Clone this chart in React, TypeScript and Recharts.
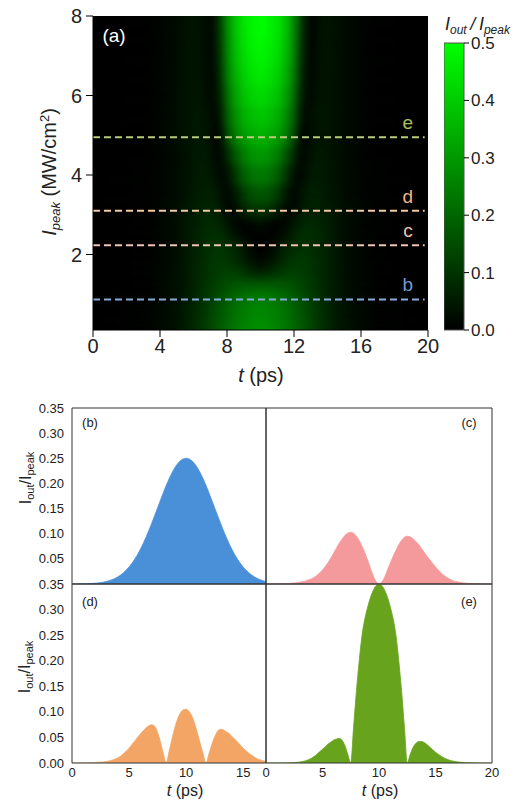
import React from 'react';
import {
  ComposedChart, AreaChart, Area, BarChart, Bar, Scatter, XAxis, YAxis,
  ReferenceArea, ReferenceLine, ReferenceDot,
} from 'recharts';

const FONT = '"Liberation Sans", Arial, sans-serif';

// time grid shared by the profile panels (ps)
const tGrid = [0, 0.25, 0.5, 0.75, 1, 1.25, 1.5, 1.75, 2, 2.25, 2.5, 2.75, 3, 3.25, 3.5, 3.75, 4, 4.25, 4.5, 4.75,
  5, 5.25, 5.5, 5.75, 6, 6.25, 6.5, 6.75, 7, 7.25, 7.5, 7.75, 8, 8.25, 8.5, 8.75, 9, 9.25, 9.5, 9.75,
  10, 10.25, 10.5, 10.75, 11, 11.25, 11.5, 11.75, 12, 12.25, 12.5, 12.75, 13, 13.25, 13.5, 13.75, 14, 14.25, 14.5, 14.75,
  15, 15.25, 15.5, 15.75, 16, 16.25, 16.5, 16.75, 17, 17.25, 17.5, 17.75, 18, 18.25, 18.5, 18.75, 19, 19.25, 19.5, 19.75, 20];

// I_out / I_peak profiles (b)-(e)
const profileB = [0.0001, 0.0001, 0.0002, 0.0003, 0.0004, 0.0005, 0.0008, 0.0011, 0.0015, 0.002, 0.0028, 0.0037, 0.005, 0.0065,
  0.0085, 0.011, 0.014, 0.0177, 0.0222, 0.0276, 0.0338, 0.0411, 0.0495, 0.0589, 0.0695, 0.0812, 0.0938, 0.1074, 0.1217, 0.1365,
  0.1516, 0.1667, 0.1815, 0.1957, 0.2088, 0.2206, 0.2308, 0.239, 0.245, 0.2488, 0.25,
  0.2488, 0.245, 0.239, 0.2308, 0.2206, 0.2088, 0.1957, 0.1815, 0.1667, 0.1516, 0.1365, 0.1217, 0.1074, 0.0938, 0.0812, 0.0695,
  0.0589, 0.0495, 0.0411, 0.0338, 0.0276, 0.0222, 0.0177, 0.014, 0.011, 0.0085, 0.0065, 0.005, 0.0037, 0.0028, 0.002, 0.0015,
  0.0011, 0.0008, 0.0005, 0.0004, 0.0003, 0.0002, 0.0001, 0.0001];

const profileC = [0, 0, 0.0001, 0.0001, 0.0002, 0.0003, 0.0005, 0.0007, 0.001, 0.0015, 0.002, 0.0027, 0.0035, 0.0045, 0.006,
  0.008, 0.01, 0.013, 0.017, 0.022, 0.028, 0.035, 0.043, 0.052, 0.062, 0.072, 0.082, 0.09, 0.097, 0.1015, 0.103, 0.101, 0.095,
  0.086, 0.075, 0.062, 0.047, 0.031, 0.016, 0.005, 0,
  0.004, 0.014, 0.028, 0.042, 0.055, 0.067, 0.078, 0.087, 0.093, 0.095, 0.094, 0.09, 0.085, 0.079, 0.071, 0.063, 0.055, 0.048,
  0.041, 0.034, 0.028, 0.022, 0.017, 0.013, 0.01, 0.007, 0.005, 0.004, 0.003, 0.002, 0.0015, 0.001, 0.0007, 0.0005, 0.0003,
  0.0002, 0.0001, 0.0001, 0, 0];

const profileD = [0, 0, 0, 0.0001, 0.0001, 0.0002, 0.0003,
  0.0005, 0.0007, 0.001, 0.0015, 0.002, 0.003, 0.004, 0.0055, 0.0075, 0.01, 0.013, 0.018, 0.023, 0.029, 0.036, 0.043, 0.05,
  0.057, 0.063, 0.069, 0.073, 0.075, 0.072, 0.06, 0.041, 0.019, 0,
  0.022, 0.046, 0.068, 0.086, 0.098, 0.104, 0.105, 0.101, 0.092, 0.077, 0.058, 0.037, 0.017, 0,
  0.018, 0.036, 0.051, 0.062, 0.066, 0.065, 0.061, 0.058, 0.052, 0.047, 0.041, 0.035, 0.029, 0.024, 0.019, 0.015, 0.011,
  0.008, 0.006, 0.0045, 0.003, 0.0022, 0.0015, 0.001, 0.0007, 0.0005, 0.0003, 0.0002, 0.0001, 0, 0, 0, 0];

const profileE = [0, 0, 0, 0, 0.0001, 0.0001, 0.0002, 0.0002,
  0.0003, 0.0005, 0.0008, 0.0013, 0.002, 0.003, 0.0045, 0.0065, 0.009, 0.0125, 0.017, 0.022, 0.027, 0.032, 0.037, 0.041,
  0.045, 0.047, 0.048, 0.044, 0.033, 0.016, 0,
  0.07, 0.14, 0.2, 0.25, 0.282, 0.305, 0.324, 0.338, 0.347, 0.35, 0.347, 0.338, 0.324, 0.305, 0.282, 0.25, 0.2, 0.14, 0.07,
  0, 0.016, 0.03, 0.038, 0.042, 0.042, 0.04, 0.036, 0.031, 0.026, 0.021, 0.017, 0.013, 0.01, 0.0075, 0.0055, 0.004, 0.0028,
  0.002, 0.0014, 0.001, 0.0007, 0.0005, 0.0003, 0.0002, 0.0001, 0.0001, 0, 0, 0, 0];

// heat map (a): columns in t (ps), rows in I_peak (MW/cm^2)
const heatT = [0, 3, 4, 5, 5.5, 6, 6.5, 7, 7.5, 8, 8.5, 9, 9.5, 10, 10.5, 11, 11.5, 12, 12.5, 13, 13.5, 14, 14.5, 15, 16, 17, 20];
const heatI = [0.1, 0.5, 0.87, 1.2, 1.5, 1.75, 2.0, 2.23, 2.5, 2.75, 3.1, 3.5, 4.0, 4.5, 4.95, 5.5, 6.0, 6.5, 7.0, 7.5, 8.0];
const heatRows = [
  [0, 0.005, 0.016, 0.038, 0.055, 0.078, 0.105, 0.136, 0.17, 0.204, 0.234, 0.259, 0.274, 0.28, 0.274, 0.259, 0.234, 0.204, 0.17, 0.136, 0.105, 0.078, 0.055, 0.038, 0.016, 0.005, 0],
  [0, 0.005, 0.015, 0.036, 0.053, 0.075, 0.101, 0.131, 0.164, 0.196, 0.225, 0.249, 0.264, 0.27, 0.264, 0.249, 0.225, 0.196, 0.164, 0.131, 0.101, 0.075, 0.053, 0.036, 0.015, 0.005, 0],
  [0, 0.005, 0.014, 0.034, 0.049, 0.07, 0.094, 0.122, 0.152, 0.182, 0.209, 0.231, 0.245, 0.25, 0.245, 0.231, 0.209, 0.182, 0.152, 0.122, 0.094, 0.07, 0.049, 0.034, 0.014, 0.005, 0],
  [0, 0.004, 0.014, 0.033, 0.048, 0.067, 0.089, 0.112, 0.136, 0.157, 0.173, 0.184, 0.189, 0.19, 0.189, 0.184, 0.173, 0.157, 0.136, 0.112, 0.089, 0.067, 0.048, 0.033, 0.014, 0.004, 0],
  [0, 0.004, 0.013, 0.032, 0.047, 0.066, 0.087, 0.106, 0.122, 0.13, 0.125, 0.112, 0.094, 0.082, 0.094, 0.112, 0.125, 0.13, 0.122, 0.106, 0.087, 0.066, 0.047, 0.032, 0.013, 0.004, 0],
  [0, 0.004, 0.012, 0.031, 0.046, 0.064, 0.084, 0.101, 0.113, 0.112, 0.097, 0.07, 0.043, 0.028, 0.043, 0.07, 0.097, 0.112, 0.113, 0.101, 0.084, 0.064, 0.046, 0.031, 0.012, 0.004, 0],
  [0, 0.004, 0.012, 0.03, 0.045, 0.063, 0.082, 0.098, 0.107, 0.1, 0.078, 0.046, 0.018, 0.006, 0.018, 0.046, 0.078, 0.1, 0.107, 0.098, 0.082, 0.063, 0.045, 0.03, 0.012, 0.004, 0],
  [0, 0.0035, 0.01, 0.028, 0.043, 0.062, 0.082, 0.097, 0.103, 0.095, 0.075, 0.047, 0.016, 0, 0.014, 0.042, 0.067, 0.087, 0.095, 0.09, 0.079, 0.063, 0.048, 0.034, 0.013, 0.004, 0],
  [0, 0.0035, 0.01, 0.027, 0.042, 0.06, 0.079, 0.093, 0.094, 0.07, 0.035, 0.01, 0.003, 0.008, 0.003, 0.01, 0.035, 0.07, 0.094, 0.093, 0.079, 0.06, 0.042, 0.027, 0.01, 0.0035, 0],
  [0, 0.0035, 0.01, 0.027, 0.041, 0.058, 0.075, 0.084, 0.074, 0.045, 0.015, 0.004, 0.012, 0.03, 0.012, 0.004, 0.015, 0.045, 0.074, 0.084, 0.075, 0.058, 0.041, 0.027, 0.01, 0.0035, 0],
  [0, 0.003, 0.01, 0.029, 0.043, 0.057, 0.069, 0.075, 0.06, 0.019, 0.022, 0.068, 0.098, 0.105, 0.092, 0.058, 0.017, 0.018, 0.051, 0.066, 0.061, 0.052, 0.041, 0.029, 0.011, 0.003, 0],
  [0, 0.003, 0.009, 0.024, 0.036, 0.049, 0.061, 0.065, 0.045, 0.005, 0.05, 0.115, 0.158, 0.17, 0.158, 0.115, 0.05, 0.005, 0.045, 0.063, 0.059, 0.048, 0.036, 0.024, 0.009, 0.003, 0],
  [0, 0.003, 0.009, 0.023, 0.034, 0.047, 0.056, 0.05, 0.02, 0.025, 0.11, 0.185, 0.228, 0.24, 0.228, 0.185, 0.11, 0.025, 0.02, 0.05, 0.054, 0.046, 0.034, 0.023, 0.009, 0.003, 0],
  [0, 0.002, 0.008, 0.022, 0.032, 0.045, 0.052, 0.04, 0.006, 0.075, 0.17, 0.245, 0.288, 0.3, 0.288, 0.245, 0.17, 0.075, 0.006, 0.04, 0.05, 0.044, 0.032, 0.022, 0.008, 0.002, 0],
  [0, 0.002, 0.009, 0.027, 0.037, 0.045, 0.048, 0.033, 0, 0.14, 0.25, 0.305, 0.338, 0.35, 0.338, 0.305, 0.25, 0.14, 0, 0.03, 0.042, 0.04, 0.031, 0.021, 0.0075, 0.002, 0],
  [0, 0.002, 0.008, 0.026, 0.036, 0.044, 0.047, 0.028, 0.02, 0.18, 0.285, 0.345, 0.377, 0.39, 0.377, 0.345, 0.285, 0.18, 0.02, 0.028, 0.043, 0.041, 0.032, 0.021, 0.007, 0.002, 0],
  [0, 0.002, 0.008, 0.025, 0.035, 0.043, 0.042, 0.015, 0.045, 0.21, 0.32, 0.382, 0.416, 0.43, 0.416, 0.382, 0.32, 0.21, 0.045, 0.015, 0.04, 0.04, 0.032, 0.021, 0.007, 0.002, 0],
  [0, 0.002, 0.008, 0.025, 0.034, 0.042, 0.038, 0.01, 0.06, 0.24, 0.348, 0.41, 0.445, 0.46, 0.445, 0.41, 0.348, 0.24, 0.06, 0.01, 0.037, 0.04, 0.031, 0.021, 0.007, 0.002, 0],
  [0, 0.002, 0.008, 0.024, 0.033, 0.041, 0.036, 0.006, 0.075, 0.255, 0.37, 0.432, 0.466, 0.48, 0.466, 0.432, 0.37, 0.255, 0.075, 0.006, 0.035, 0.04, 0.031, 0.021, 0.007, 0.002, 0],
  [0, 0.002, 0.008, 0.024, 0.033, 0.04, 0.035, 0.005, 0.085, 0.265, 0.382, 0.445, 0.48, 0.495, 0.48, 0.445, 0.382, 0.265, 0.085, 0.005, 0.034, 0.04, 0.031, 0.021, 0.007, 0.002, 0],
  [0, 0.002, 0.008, 0.024, 0.032, 0.04, 0.034, 0.004, 0.092, 0.272, 0.388, 0.452, 0.487, 0.5, 0.487, 0.452, 0.388, 0.272, 0.092, 0.004, 0.034, 0.04, 0.031, 0.021, 0.007, 0.002, 0],
];

// horizontal cuts shown in (a)
const cutLevels = [4.95, 3.1, 2.23, 0.87];
const cutNames = ['e', 'd', 'c', 'b'];
const cutLineColors = ['#b9cc7c', '#f1caa2', '#f0c4b4', '#86abd9'];
const cutTextColors = ['#a8c25e', '#f4b680', '#f1c3b0', '#6f9bd7'];

const heatXTicks = [0, 4, 8, 12, 16, 20];
const heatXMinor = [2, 6, 10, 14, 18];
const heatYTicks = [2, 4, 6, 8];
const heatYMinor = [1, 3, 5, 7];
const barTicks = [0, 0.1, 0.2, 0.3, 0.4, 0.5];

const leftXTicks = [0, 5, 10, 15];
const rightXTicks = [0, 5, 10, 15, 20];
const leftXMinor = [2.5, 5, 7.5, 10, 12.5, 15];
const rightXMinor = [2.5, 5, 7.5, 10, 12.5, 15, 17.5];
const upperYTicks = [0.05, 0.1, 0.15, 0.2, 0.25, 0.3, 0.35];
const lowerYTicks = [0, 0.05, 0.1, 0.15, 0.2, 0.25, 0.3, 0.35];
const innerYTicks = [0.05, 0.1, 0.15, 0.2, 0.25, 0.3];

const MAXV = 0.5;
const green = (v: number) => `rgb(0,${Math.round(255 * Math.min(1, Math.max(0, v / MAXV)))},0)`;

const HX0 = 0, HX1 = 20, HY0 = 0.1, HY1 = 8;
const OV = 0.3;

function Defs() {
  return (
    <svg width={0} height={0} style={{ position: 'absolute' }}>
      <defs>
        <filter id="vblur" filterUnits="userSpaceOnUse" x={-50} y={-100} width={700} height={700}
          colorInterpolationFilters="sRGB">
          <feGaussianBlur stdDeviation="3 5" />
        </filter>
        {heatRows.map((row, i) => (
          <linearGradient id={`hrow${i}`} key={i} x1="0" y1="0" x2="1" y2="0">
            {row.map((v, j) => (
              <stop key={j} offset={(heatT[j] - HX0) / (HX1 - HX0)} stopColor={green(v)} />
            ))}
          </linearGradient>
        ))}
        <linearGradient id="cbar" x1="0" y1="1" x2="0" y2="0">
          {barTicks.map((v) => (
            <stop key={v} offset={v / MAXV} stopColor={green(v)} />
          ))}
        </linearGradient>
      </defs>
    </svg>
  );
}

function HeatMap() {
  const bands = heatI.map((I, i) => ({
    i,
    y1: i === 0 ? HY0 - 0.6 : (heatI[i - 1] + I) / 2,
    y2: i === heatI.length - 1 ? HY1 + 0.6 : (I + heatI[i + 1]) / 2 + OV,
  }));
  const corners = [{ t: HX0, I: HY0 }, { t: HX1, I: HY1 }];
  const tickStyle = { fill: '#222', fontSize: 20, fontFamily: FONT };
  return (
    <div style={{ position: 'absolute', left: 0, top: 0 }}>
      <ComposedChart width={440} height={400} margin={{ top: 16, right: 12, bottom: 68, left: 91 }}>
        <XAxis xAxisId="m" type="number" dataKey="t" domain={[HX0, HX1]} ticks={heatXTicks} allowDataOverflow height={1}
          tickSize={7} tickMargin={2} stroke="#000" tick={tickStyle} />
        <XAxis xAxisId="n" type="number" dataKey="t" domain={[HX0, HX1]} ticks={heatXMinor} allowDataOverflow height={1}
          tickSize={4} tick={false} axisLine={false} stroke="#000" />
        <YAxis yAxisId="m" type="number" dataKey="I" domain={[HY0, HY1]} ticks={heatYTicks} allowDataOverflow width={1}
          tickSize={7} tickMargin={4} stroke="#000" tick={tickStyle} />
        <YAxis yAxisId="n" type="number" dataKey="I" domain={[HY0, HY1]} ticks={heatYMinor} allowDataOverflow width={1}
          tickSize={4} tick={false} axisLine={false} stroke="#000" />
        <Scatter xAxisId="m" yAxisId="m" data={corners} dataKey="I" shape={() => <g />} isAnimationActive={false} />
        <Scatter xAxisId="n" yAxisId="n" data={corners} dataKey="I" shape={() => <g />} isAnimationActive={false} />
        <ReferenceArea xAxisId="m" yAxisId="m" x1={HX0} x2={HX1} y1={HY0} y2={HY1} fill="#000" fillOpacity={1}
          stroke="none" ifOverflow="hidden" />
        {bands.map((b) => (
          <ReferenceArea key={b.i} xAxisId="m" yAxisId="m" x1={HX0} x2={HX1} y1={b.y1} y2={b.y2}
            ifOverflow="hidden"
            shape={(p: any) => (
              <rect x={p.x} y={p.y} width={p.width} height={p.height} fill={`url(#hrow${b.i})`}
                filter="url(#vblur)" clipPath={p.clipPath} />
            )} />
        ))}
        {cutLevels.map((L, i) => (
          <ReferenceLine key={'l' + i} xAxisId="m" yAxisId="m" segment={[{ x: 0, y: L }, { x: 19.8, y: L }]}
            stroke={cutLineColors[i]} strokeWidth={2} strokeDasharray="7 4" />
        ))}
        {cutLevels.map((L, i) => (
          <ReferenceDot key={'d' + i} xAxisId="m" yAxisId="m" x={18.8} y={L} r={0} fill="none" stroke="none"
            label={{ value: cutNames[i], position: 'top', offset: 8, fill: cutTextColors[i], fontSize: 19, fontFamily: FONT }} />
        ))}
      </ComposedChart>
    </div>
  );
}

function ColorBar() {
  return (
    <div style={{ position: 'absolute', left: 444, top: 33 }}>
      <BarChart width={70} height={307} margin={{ top: 10, bottom: 10, left: 0, right: 49 }}
        data={[{ name: 'bar', v: MAXV }]} barCategoryGap={0}>
        <XAxis dataKey="name" hide />
        <YAxis orientation="right" type="number" domain={[0, MAXV]} ticks={barTicks} width={1}
          tickSize={5} tickMargin={2} axisLine={false} stroke="#000"
          tickFormatter={(v: number) => v.toFixed(1)}
          tick={{ fill: '#222', fontSize: 17, fontFamily: FONT }} />
        <Bar dataKey="v" fill="url(#cbar)" stroke="#555" strokeWidth={1} isAnimationActive={false} />
      </BarChart>
    </div>
  );
}

type PanelProps = {
  values: number[]; color: string; xMax: number; xTicks: number[]; xMinor: number[];
  yTicks: number[]; showY: boolean; showX: boolean; px: number; py: number; pw: number; ph: number;
};

function Panel({ values, color, xMax, xTicks, xMinor, yTicks, showY, showX, px, py, pw, ph }: PanelProps) {
  const data = tGrid.map((t, i) => ({ t, v: values[i] ?? 0 }));
  const M = { left: 49, right: 10, top: 10, bottom: 29 };
  const tickStyle = { fill: '#222', fontSize: 13, fontFamily: FONT };
  const ax = { stroke: '#333', strokeWidth: 1 };
  return (
    <div style={{ position: 'absolute', left: px - M.left - 1, top: py - M.top }}>
      <AreaChart width={pw + M.left + 1 + M.right} height={ph + M.top + M.bottom + 1} data={data} margin={M}>
        <XAxis xAxisId="b" type="number" dataKey="t" domain={[0, xMax]} allowDataOverflow ticks={xTicks} height={1}
          tickSize={0} tickMargin={5} tickLine={false} axisLine={ax} tick={showX ? tickStyle : false} />
        <XAxis xAxisId="bm" type="number" dataKey="t" domain={[0, xMax]} allowDataOverflow ticks={xMinor} height={1}
          mirror tickSize={4} tick={false} axisLine={false} stroke="#333" />
        <XAxis xAxisId="tm" orientation="top" type="number" dataKey="t" domain={[0, xMax]} allowDataOverflow
          ticks={xMinor} height={1} mirror tickSize={4} tick={false} axisLine={ax} stroke="#333" />
        <YAxis yAxisId="l" type="number" domain={[0, 0.35]} allowDataOverflow ticks={yTicks} width={1}
          tickSize={0} tickMargin={8} tickLine={false} axisLine={ax}
          tickFormatter={(v: number) => v.toFixed(2)} tick={showY ? tickStyle : false} />
        <YAxis yAxisId="lm" type="number" domain={[0, 0.35]} allowDataOverflow ticks={innerYTicks} width={1}
          mirror tickSize={4} tick={false} axisLine={false} stroke="#333" />
        <YAxis yAxisId="rm" orientation="right" type="number" domain={[0, 0.35]} allowDataOverflow ticks={innerYTicks}
          width={1} mirror tickSize={4} tick={false} axisLine={ax} stroke="#333" />
        <Area xAxisId="b" yAxisId="l" type="monotone" dataKey="v" stroke={color} strokeWidth={0.8} fill={color}
          fillOpacity={1} baseValue={0} dot={false} activeDot={false} isAnimationActive={false} />
      </AreaChart>
    </div>
  );
}

function Txt({ cx, cy, size, rotate, color = '#222', italic, children }: any) {
  return (
    <div style={{
      position: 'absolute', left: cx, top: cy, whiteSpace: 'nowrap', lineHeight: 1,
      transform: `translate(-50%,-50%)${rotate ? ' rotate(-90deg)' : ''}`,
      fontSize: size, fontFamily: FONT, color, fontStyle: italic ? 'italic' : 'normal',
    }}>{children}</div>
  );
}

const sub = (s: string, size: number, italic = false) => (
  <sub style={{ fontSize: size, fontStyle: italic ? 'italic' : 'normal', verticalAlign: '-0.3em' }}>{s}</sub>
);

export default function App() {
  return (
    <div style={{ position: 'absolute', left: 0, top: 0, width: 515, height: 802, overflow: 'hidden', background: '#fff' }}>
      <Defs />
      <HeatMap />
      <ColorBar />
      <Panel values={profileB} color="#4a90d9" xMax={17} xTicks={leftXTicks} xMinor={leftXMinor} yTicks={upperYTicks}
        showY showX={false} px={72} py={408} pw={194} ph={176} />
      <Panel values={profileC} color="#f59a9c" xMax={20} xTicks={rightXTicks} xMinor={rightXMinor} yTicks={upperYTicks}
        showY={false} showX={false} px={266} py={408} pw={226} ph={176} />
      <Panel values={profileD} color="#f3a565" xMax={17} xTicks={leftXTicks} xMinor={leftXMinor} yTicks={lowerYTicks}
        showY showX px={72} py={584} pw={194} ph={179} />
      <Panel values={profileE} color="#68a31e" xMax={20} xTicks={rightXTicks} xMinor={rightXMinor} yTicks={lowerYTicks}
        showY={false} showX px={266} py={584} pw={226} ph={179} />

      <Txt cx={114} cy={35} size={19} color="#fff">(a)</Txt>
      <Txt cx={90} cy={422} size={13}>(b)</Txt>
      <Txt cx={469} cy={422} size={13}>(c)</Txt>
      <Txt cx={90} cy={601} size={13}>(d)</Txt>
      <Txt cx={469} cy={601} size={13}>(e)</Txt>

      <Txt cx={261} cy={375} size={20}><i>t</i> (ps)</Txt>
      <Txt cx={185} cy={791} size={16}><i>t</i> (ps)</Txt>
      <Txt cx={380} cy={791} size={16}><i>t</i> (ps)</Txt>

      <Txt cx={50} cy={172} size={20} rotate>
        <i>I</i>{sub('peak', 13, true)} (MW/cm<sup style={{ fontSize: 13 }}>2</sup>)
      </Txt>
      <Txt cx={27} cy={478} size={16} rotate>I{sub('out', 11)}/I{sub('peak', 11)}</Txt>
      <Txt cx={26} cy={667} size={16} rotate>I{sub('out', 11)}/I{sub('peak', 11)}</Txt>

      <div style={{ position: 'absolute', left: 445, top: 15, whiteSpace: 'nowrap', lineHeight: 1, fontSize: 18,
        fontFamily: FONT, fontStyle: 'italic', color: '#222' }}>
        I{sub('out', 12, true)}{'\u2009/\u2009'}I{sub('peak', 12, true)}
      </div>
    </div>
  );
}
